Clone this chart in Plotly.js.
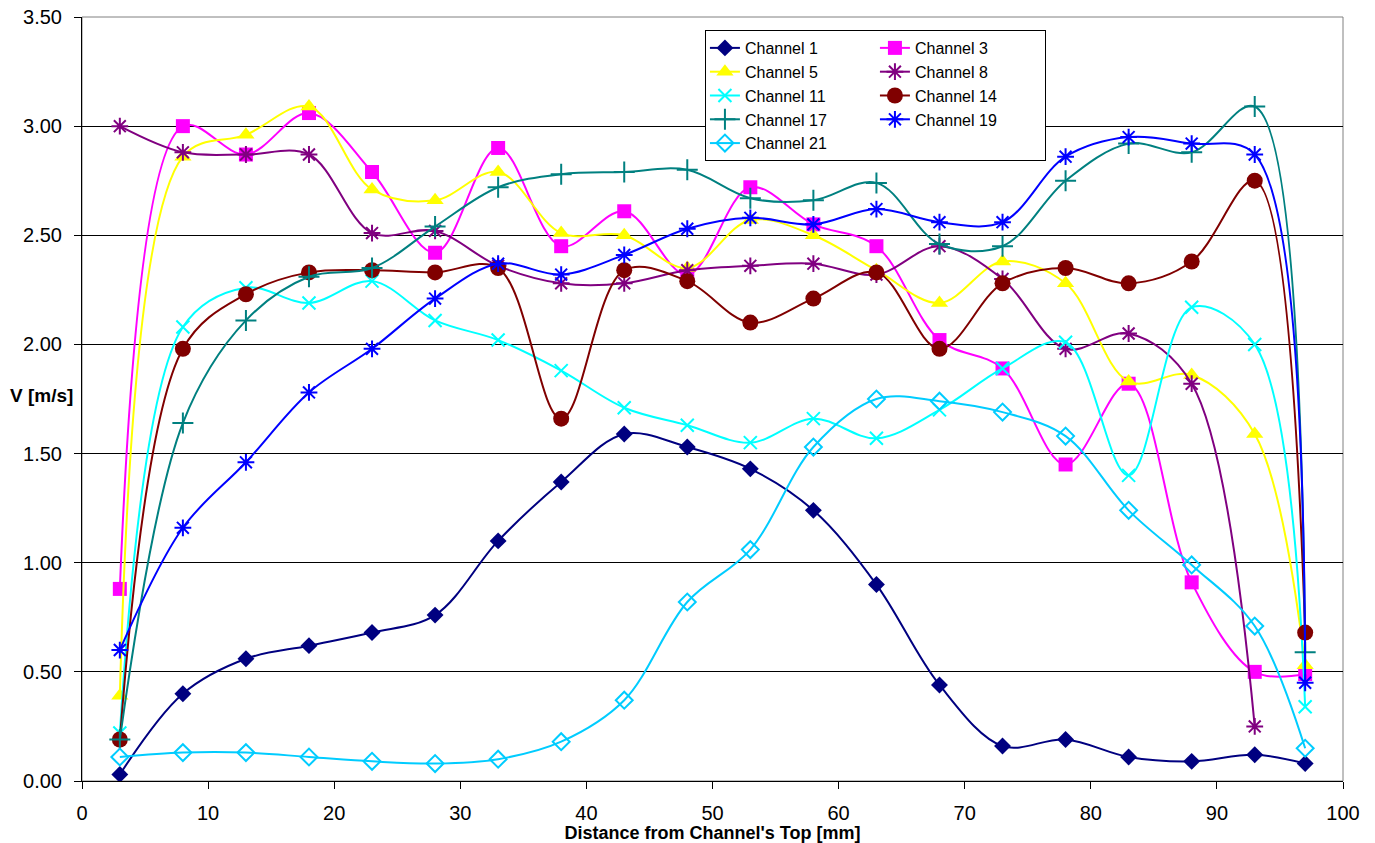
<!DOCTYPE html>
<html>
<head>
<meta charset="utf-8">
<script src="https://cdn.plot.ly/plotly-3.0.1.min.js"></script>
<style>html,body{margin:0;padding:0;background:#fff;}#chart{width:1375px;height:843px;}</style>
</head>
<body>
<div id="chart"></div>
<script>
// Distance from channel's top [mm]
const distance = [3, 8, 13, 18, 23, 28, 33, 38, 43, 48, 53, 58, 63, 68, 73, 78, 83, 88, 93, 97];

// Velocity V [m/s] per channel
const channel1  = [0.03, 0.40, 0.56, 0.62, 0.68, 0.76, 1.10, 1.37, 1.59, 1.53, 1.43, 1.24, 0.90, 0.44, 0.16, 0.19, 0.11, 0.09, 0.12, 0.08];
const channel3  = [0.88, 3.00, 2.87, 3.06, 2.79, 2.42, 2.90, 2.45, 2.61, 2.32, 2.72, 2.55, 2.45, 2.02, 1.89, 1.45, 1.82, 0.91, 0.50, 0.49];
const channel5  = [0.39, 2.86, 2.96, 3.09, 2.71, 2.66, 2.79, 2.51, 2.50, 2.35, 2.57, 2.50, 2.34, 2.19, 2.38, 2.28, 1.83, 1.86, 1.59, 0.53];
const channel8  = [3.00, 2.88, 2.87, 2.87, 2.51, 2.52, 2.36, 2.28, 2.28, 2.34, 2.36, 2.37, 2.32, 2.45, 2.30, 1.98, 2.05, 1.82, 0.25];
const channel11 = [0.22, 2.08, 2.26, 2.19, 2.29, 2.11, 2.02, 1.88, 1.71, 1.63, 1.55, 1.66, 1.57, 1.70, 1.89, 2.01, 1.40, 2.17, 2.00, 0.34];
const channel14 = [0.19, 1.98, 2.23, 2.33, 2.34, 2.33, 2.35, 1.66, 2.34, 2.29, 2.10, 2.21, 2.33, 1.98, 2.28, 2.35, 2.28, 2.38, 2.75, 0.68];
const channel17 = [0.19, 1.64, 2.11, 2.31, 2.35, 2.54, 2.72, 2.78, 2.79, 2.80, 2.67, 2.66, 2.74, 2.46, 2.45, 2.75, 2.92, 2.88, 3.09, 0.59];
const channel19 = [0.60, 1.16, 1.46, 1.78, 1.98, 2.21, 2.37, 2.32, 2.41, 2.53, 2.58, 2.55, 2.62, 2.56, 2.56, 2.86, 2.95, 2.92, 2.87, 0.45];
const channel21 = [0.11, 0.13, 0.13, 0.11, 0.09, 0.08, 0.10, 0.18, 0.37, 0.82, 1.06, 1.53, 1.75, 1.74, 1.69, 1.58, 1.24, 0.99, 0.71, 0.15];

const seriesNames = ['Channel 1', 'Channel 3', 'Channel 5', 'Channel 8', 'Channel 11', 'Channel 14', 'Channel 17', 'Channel 19', 'Channel 21'];
const seriesValues = [channel1, channel3, channel5, channel8, channel11, channel14, channel17, channel19, channel21];

const styles = [
  {color: '#000080', symbol: 'diamond', size: 13, group: 'a'},
  {color: '#FF00FF', symbol: 'square', size: 14, group: 'b'},
  {color: '#FFFF00', symbol: 'triangle-up', size: 15, group: 'a'},
  {color: '#800080', symbol: 'asterisk-open', size: 14, group: 'b'},
  {color: '#00FFFF', symbol: 'x-thin-open', size: 13, group: 'a'},
  {color: '#800000', symbol: 'circle', size: 16, group: 'b'},
  {color: '#008080', symbol: 'cross-thin-open', size: 15, group: 'a'},
  {color: '#0000FF', symbol: 'asterisk-open', size: 14, group: 'b'},
  {color: '#00CCFF', symbol: 'diamond-open', size: 13, group: 'a'}
];

const traces = seriesNames.map((name, i) => {
  const s = styles[i];
  const vals = seriesValues[i];
  return {
    type: 'scatter',
    mode: 'lines+markers',
    name: name,
    legendgroup: s.group,
    x: distance.slice(0, vals.length),
    y: vals,
    line: {color: s.color, width: 2, shape: 'spline', smoothing: 1},
    marker: {
      color: s.color,
      symbol: s.symbol,
      size: s.size,
      line: {color: s.color, width: (s.symbol.indexOf('open') >= 0 ? 2 : 0)}
    },
    hoverinfo: 'x+y+name'
  };
});

const FONT = 'Arial, "Liberation Sans", sans-serif';

const layout = {
  width: 1375,
  height: 843,
  margin: {l: 82, r: 32, t: 17, b: 62},
  paper_bgcolor: '#ffffff',
  plot_bgcolor: '#ffffff',
  font: {family: FONT, color: '#000000', size: 20},
  showlegend: true,
  legend: {
    orientation: 'h',
    traceorder: 'grouped',
    entrywidth: 125,
    x: 0.494,
    y: 0.983,
    xanchor: 'left',
    yanchor: 'top',
    bgcolor: '#ffffff',
    bordercolor: '#000000',
    borderwidth: 1,
    font: {family: FONT, size: 16, color: '#000000'},
    tracegroupgap: 0
  },
  xaxis: {
    range: [0, 100],
    tick0: 0,
    dtick: 10,
    ticks: 'outside',
    ticklen: 7,
    tickcolor: '#000000',
    showline: true,
    linecolor: '#000000',
    linewidth: 1,
    showgrid: false,
    zeroline: false,
    tickfont: {family: FONT, size: 20, color: '#000000'},
    ticklabelstandoff: 7,
    title: {
      text: "<b>Distance from Channel's Top [mm]</b>",
      font: {family: FONT, size: 18, color: '#000000'},
      standoff: 3
    }
  },
  yaxis: {
    range: [0, 3.5],
    tick0: 0,
    dtick: 0.5,
    tickformat: '.2f',
    ticks: 'outside',
    ticklen: 7,
    tickcolor: '#000000',
    showline: true,
    linecolor: '#000000',
    linewidth: 1,
    showgrid: true,
    gridcolor: '#000000',
    gridwidth: 1,
    zeroline: false,
    tickfont: {family: FONT, size: 20, color: '#000000'},
    ticklabelstandoff: 8
  },
  shapes: [{
    type: 'rect', xref: 'paper', yref: 'paper', x0: 0, x1: 1, y0: 0, y1: 1,
    line: {color: '#808080', width: 1}, fillcolor: 'rgba(0,0,0,0)', layer: 'below'
  }],
  annotations: [{
    text: '<b>V [m/s]</b>',
    xref: 'paper', yref: 'paper',
    x: 0, y: 0.505,
    xanchor: 'right', yanchor: 'middle',
    xshift: -7,
    showarrow: false,
    font: {family: FONT, size: 19, color: '#000000'}
  }],
  hovermode: 'closest'
};

Plotly.newPlot('chart', traces, layout, {displayModeBar: false, responsive: false});
</script>
</body>
</html>
